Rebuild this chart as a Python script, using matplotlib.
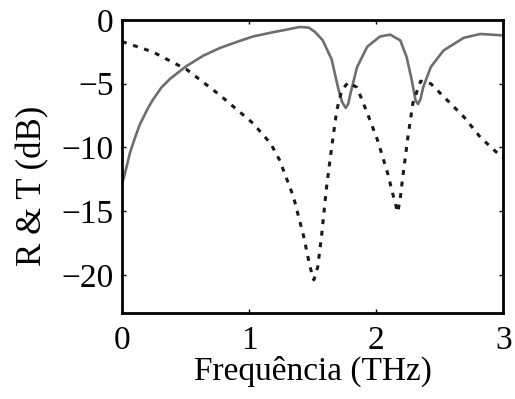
import numpy as np
import matplotlib; matplotlib.use("Agg")
import matplotlib.pyplot as plt

# transmission T (dB), solid grey
t_freq = [0.0, 0.024, 0.063, 0.10, 0.14, 0.20, 0.24, 0.31, 0.38, 0.51, 0.64, 0.77, 0.91, 1.03, 1.17,
          1.30, 1.40, 1.47, 1.52, 1.58, 1.65, 1.70, 1.73, 1.76, 1.78, 1.80, 1.85, 1.93, 2.03, 2.11,
          2.19, 2.24, 2.28, 2.31, 2.33, 2.35, 2.37, 2.43, 2.53, 2.69, 2.82, 2.98, 3.0]
t_db = [-12.9, -12.0, -10.4, -9.3, -8.2, -7.0, -6.3, -5.3, -4.6, -3.6, -2.8, -2.2, -1.7, -1.3, -1.0,
        -0.75, -0.55, -0.6, -0.95, -1.6, -3.1, -5.3, -6.4, -6.9, -6.6, -5.7, -3.7, -2.1, -1.3, -1.15,
        -1.6, -2.9, -4.7, -6.3, -6.6, -6.2, -5.3, -3.7, -2.4, -1.4, -1.1, -1.2, -1.2]

# reflection R (dB), dashed black
r_freq = [0.0, 0.24, 0.51, 0.77, 1.03, 1.17, 1.24, 1.32, 1.35, 1.43, 1.48, 1.51, 1.54, 1.57, 1.61,
          1.65, 1.69, 1.73, 1.78, 1.85, 1.93, 2.01, 2.09, 2.14, 2.17, 2.19, 2.21, 2.25, 2.29, 2.35,
          2.43, 2.56, 2.69, 2.82, 2.96, 3.0]
r_db = [-1.7, -2.5, -3.9, -5.9, -8.1, -9.7, -11.0, -13.1, -13.9, -17.0, -19.4, -20.4, -19.4, -17.0, -13.1,
        -10.0, -7.1, -5.5, -4.9, -5.3, -7.3, -9.4, -12.0, -14.0, -15.1, -14.0, -12.3, -9.2, -6.5, -4.8,
        -5.0, -6.3, -7.6, -9.2, -10.5, -10.8]

plt.rcParams["font.family"] = ["Liberation Serif", "DejaVu Serif"]
fig = plt.figure(figsize=(5.15, 3.99), dpi=100)
ax = fig.add_axes([0.237, 0.2155, 0.740, 0.7345])

ax.plot(t_freq, t_db, color="#6e6e6e", lw=1.9)
ax.plot(r_freq, r_db, color="#1a1a1a", lw=2.2, ls=(0, (1.6, 2.2)))

ax.set_xlim(0, 3); ax.set_ylim(-23, 0)
ax.set_xticks([0, 1, 2, 3]); ax.set_yticks([0, -5, -10, -15, -20])
ax.set_yticklabels(["0", "\u22125", "\u221210", "\u221215", "\u221220"])
ax.tick_params(direction="in", length=3, width=1, labelsize=24, top=True, right=True, pad=9)
ax.tick_params(axis="y", pad=6)
for s in ax.spines.values():
    s.set_linewidth(2.0)
ax.set_xlabel("Frequência (THz)", fontsize=24, labelpad=0)
ax.set_ylabel("R & T (dB)", fontsize=25)
ax.yaxis.set_label_coords(-0.19, 0.435)

plt.savefig("out.png", dpi=100)
